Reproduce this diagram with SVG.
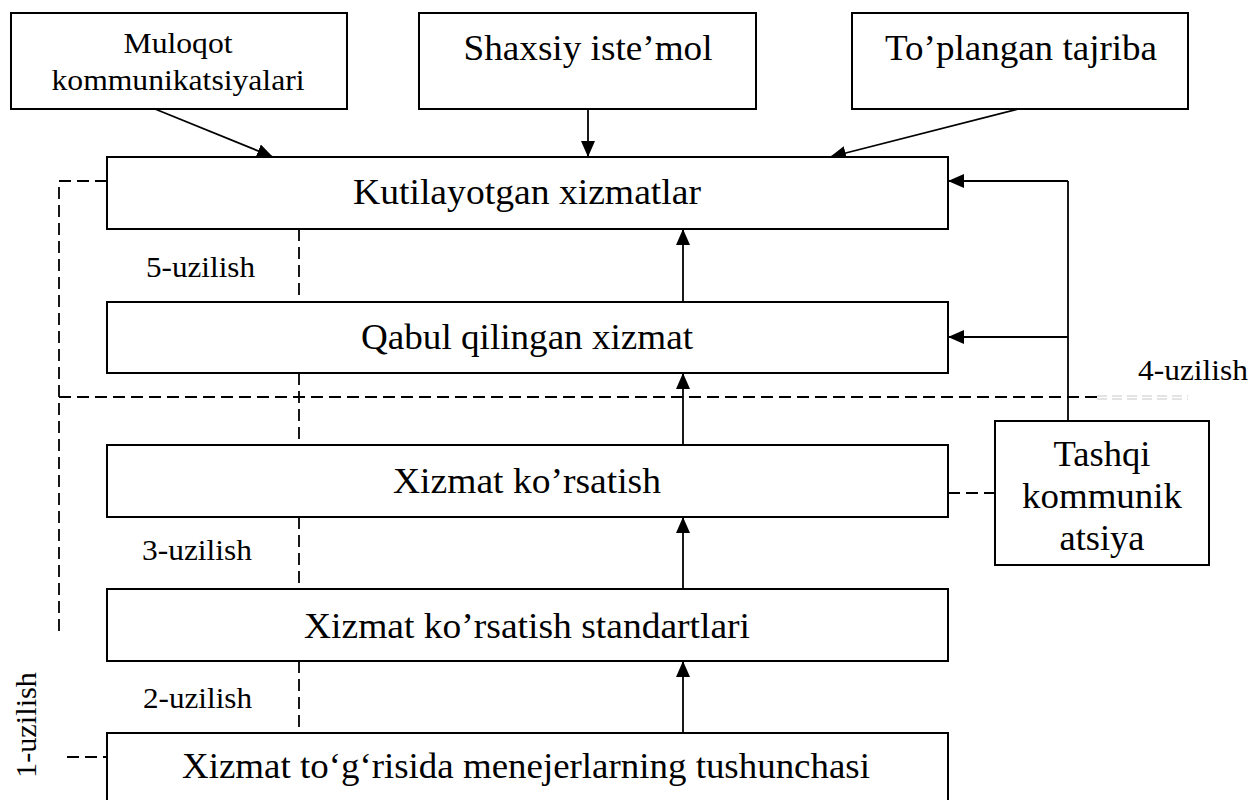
<svg xmlns="http://www.w3.org/2000/svg" width="1252" height="800" viewBox="0 0 1252 800">
  <defs>
    <marker id="arrow" viewBox="0 0 16 14" refX="16" refY="7" markerWidth="16" markerHeight="14" markerUnits="userSpaceOnUse" orient="auto">
      <path d="M0,0 L16,7 L0,14 Z" fill="#000"/>
    </marker>
    <style>
      .box { fill: #fff; stroke: #000; stroke-width: 2; }
      text { font-family: 'Liberation Serif', 'Times New Roman', serif; fill: #000; }
      .t { text-anchor: middle; }
      .big { font-size: 36px; }
      .small { font-size: 30px; }
      .lbl { font-size: 30px; }
      .line { fill: none; stroke: #000; stroke-width: 1.8; }
      .arr { fill: none; stroke: #000; stroke-width: 1.8; marker-end: url(#arrow); }
      .dash { fill: none; stroke: #000; stroke-width: 1.8; stroke-dasharray: 12 6; }
      .faint { fill: none; stroke: #c8c8c8; stroke-width: 1; stroke-dasharray: 10 5; }
    </style>
  </defs>

  <rect width="1252" height="800" fill="#fff"/>

  <!-- connectors -->
  <g id="connectors">
    <!-- inputs into expected service -->
    <line class="arr" x1="155" y1="109" x2="273" y2="157"/>
    <line class="arr" x1="588" y1="109" x2="588" y2="157"/>
    <line class="arr" x1="1018" y1="109" x2="830" y2="157"/>
    <!-- upward chain -->
    <line class="arr" x1="683" y1="302" x2="683" y2="229"/>
    <line class="arr" x1="683" y1="445" x2="683" y2="373"/>
    <line class="arr" x1="683" y1="589" x2="683" y2="517"/>
    <line class="arr" x1="683" y1="733" x2="683" y2="661"/>
    <!-- external communication feedback -->
    <line class="line" x1="1068" y1="421" x2="1068" y2="181"/>
    <line class="arr" x1="1068" y1="181" x2="948" y2="181"/>
    <line class="arr" x1="1068" y1="337" x2="948" y2="337"/>
    <line class="dash" x1="948" y1="493" x2="995" y2="493"/>
    <!-- gap markers between boxes -->
    <line class="dash" x1="299" y1="229" x2="299" y2="302"/>
    <line class="dash" x1="299" y1="373" x2="299" y2="445"/>
    <line class="dash" x1="299" y1="517" x2="299" y2="589"/>
    <line class="dash" x1="299" y1="661" x2="299" y2="733"/>
    <!-- left bracket and divider -->
    <polyline class="dash" points="107,181 59,181 59,637"/>
    <line class="dash" x1="59" y1="397" x2="1097" y2="397"/>
    <line class="faint" x1="1097" y1="396" x2="1188" y2="396"/>
    <line class="faint" x1="1097" y1="399" x2="1188" y2="399"/>
    <line class="dash" x1="67" y1="757" x2="107" y2="757"/>
  </g>

  <!-- top inputs -->
  <g id="muloqot">
    <rect class="box" x="11" y="13" width="336" height="96"/>
    <text class="t small" x="178" y="53" textLength="109" lengthAdjust="spacingAndGlyphs">Muloqot</text>
    <text class="t small" x="178" y="90" textLength="253" lengthAdjust="spacingAndGlyphs">kommunikatsiyalari</text>
  </g>
  <g id="shaxsiy">
    <rect class="box" x="419" y="13" width="337" height="96"/>
    <text class="t big" x="588" y="60" textLength="249" lengthAdjust="spacingAndGlyphs">Shaxsiy iste’mol</text>
  </g>
  <g id="toplangan">
    <rect class="box" x="852" y="13" width="336" height="96"/>
    <text class="t big" x="1021" y="60" textLength="272" lengthAdjust="spacingAndGlyphs">To’plangan tajriba</text>
  </g>

  <!-- main chain -->
  <g id="kutilayotgan">
    <rect class="box" x="107" y="157" width="841" height="72"/>
    <text class="t big" x="527" y="204" textLength="348" lengthAdjust="spacingAndGlyphs">Kutilayotgan xizmatlar</text>
  </g>
  <g id="qabul">
    <rect class="box" x="107" y="302" width="841" height="71"/>
    <text class="t big" x="527" y="349" textLength="332" lengthAdjust="spacingAndGlyphs">Qabul qilingan xizmat</text>
  </g>
  <g id="korsatish">
    <rect class="box" x="107" y="445" width="841" height="72"/>
    <text class="t big" x="527" y="493" textLength="268" lengthAdjust="spacingAndGlyphs">Xizmat ko’rsatish</text>
  </g>
  <g id="standartlar">
    <rect class="box" x="107" y="589" width="841" height="72"/>
    <text class="t big" x="527" y="638" textLength="446" lengthAdjust="spacingAndGlyphs">Xizmat ko’rsatish standartlari</text>
  </g>
  <g id="tushuncha">
    <rect class="box" x="107" y="733" width="841" height="80"/>
    <text class="t big" x="526" y="778" textLength="688" lengthAdjust="spacingAndGlyphs">Xizmat to‘g‘risida menejerlarning tushunchasi</text>
  </g>

  <!-- external communication -->
  <g id="tashqi">
    <rect class="box" x="995" y="421" width="214" height="144"/>
    <text class="t big" x="1102" y="466" textLength="97" lengthAdjust="spacingAndGlyphs">Tashqi</text>
    <text class="t big" x="1102" y="508" textLength="160" lengthAdjust="spacingAndGlyphs">kommunik</text>
    <text class="t big" x="1102" y="550" textLength="85" lengthAdjust="spacingAndGlyphs">atsiya</text>
  </g>

  <!-- gap labels -->
  <g id="labels">
    <text class="lbl" x="146" y="277" textLength="109" lengthAdjust="spacingAndGlyphs">5-uzilish</text>
    <text class="lbl" x="1138" y="380" textLength="110" lengthAdjust="spacingAndGlyphs">4-uzilish</text>
    <text class="lbl" x="142" y="560" textLength="110" lengthAdjust="spacingAndGlyphs">3-uzilish</text>
    <text class="lbl" x="143" y="708" textLength="109" lengthAdjust="spacingAndGlyphs">2-uzilish</text>
    <text class="lbl" transform="translate(36,778) rotate(-90)" x="0" y="0" textLength="106" lengthAdjust="spacingAndGlyphs">1-uzilish</text>
  </g>
</svg>
